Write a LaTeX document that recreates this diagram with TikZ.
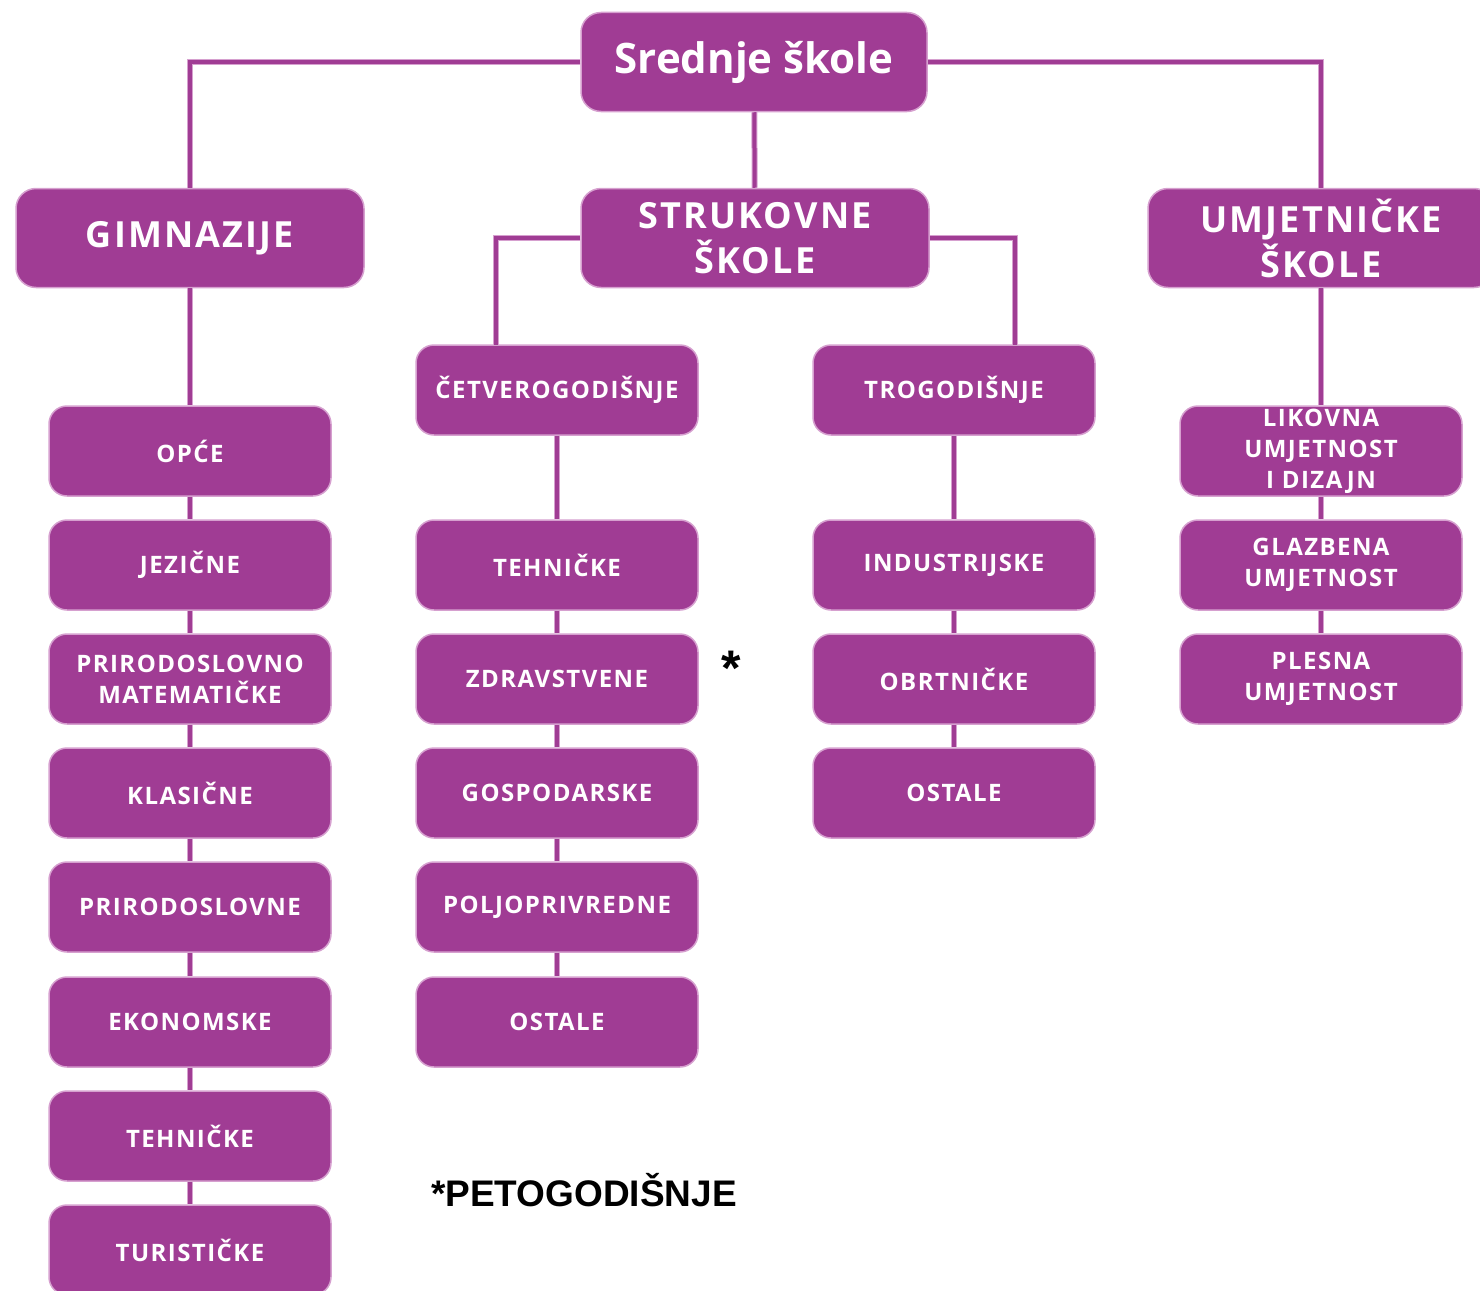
\documentclass[tikz,border=0pt]{standalone}
\usepackage{fontspec}
\setmainfont{Open Sans}
\newfontfamily\boxfont{Open Sans}[LetterSpace=6]
\newfontfamily\notefont{Liberation Sans}
\definecolor{skpurple}{RGB}{160,60,148}
\definecolor{skedge}{RGB}{214,160,207}
\begin{document}
\begin{tikzpicture}[x=1pt,y=-1pt,
    top node/.style={rectangle,rounded corners=20pt,fill=skpurple,draw=skedge,line width=1.5pt,text=white,
      minimum width=346pt,minimum height=99pt,inner sep=0pt,align=center,font=\fontsize{42}{45}\selectfont\bfseries},
    big node/.style={top node,minimum width=348pt,font=\boxfont\fontsize{36}{45}\selectfont\bfseries},
    small node/.style={top node,rounded corners=18pt,minimum width=282pt,minimum height=90pt,font=\boxfont\fontsize{24}{31}\selectfont\bfseries},
    link/.style={draw=skedge,double=skpurple,double distance=4pt,line width=1pt}]
  \clip (0,0) rectangle (1480,1290);
  % top levels
  \node[top node] (top) at (754,62) {Srednje škole};
  \node[big node] (gim) at (190,238) {GIMNAZIJE};
  \node[big node] (stru) at (755,238) {STRUKOVNE\\ŠKOLE};
  \node[big node,minimum width=346pt] (umj) at (1321,238) {UMJETNIČKE\\ŠKOLE};
  % gimnazije
  \node[small node] (g1) at (190,451) {OPĆE};
  \node[small node] (g2) at (190,565) {JEZIČNE};
  \node[small node] (g3) at (190,679) {PRIRODOSLOVNO\\MATEMATIČKE};
  \node[small node] (g4) at (190,793) {KLASIČNE};
  \node[small node] (g5) at (190,907) {PRIRODOSLOVNE};
  \node[small node] (g6) at (190,1022) {EKONOMSKE};
  \node[small node] (g7) at (190,1136) {TEHNIČKE};
  \node[small node] (g8) at (190,1250) {TURISTIČKE};
  % strukovne - cetverogodisnje
  \node[small node] (c0) at (557,390) {ČETVEROGODIŠNJE};
  \node[small node] (c1) at (557,565) {TEHNIČKE};
  \node[small node] (c2) at (557,679) {ZDRAVSTVENE};
  \node[small node] (c3) at (557,793) {GOSPODARSKE};
  \node[small node] (c4) at (557,907) {POLJOPRIVREDNE};
  \node[small node] (c5) at (557,1022) {OSTALE};
  % strukovne - trogodisnje
  \node[small node] (t0) at (954,390) {TROGODIŠNJE};
  \node[small node] (t1) at (954,565) {INDUSTRIJSKE};
  \node[small node] (t2) at (954,679) {OBRTNIČKE};
  \node[small node] (t3) at (954,793) {OSTALE};
  % umjetnicke
  \node[small node] (u1) at (1321,451) {LIKOVNA\\UMJETNOST\\I DIZAJN};
  \node[small node] (u2) at (1321,565) {GLAZBENA\\UMJETNOST};
  \node[small node] (u3) at (1321,679) {PLESNA\\UMJETNOST};
  % notes
  \node[font=\notefont\fontsize{50}{50}\selectfont\bfseries] (star) at (731,668) {*};
  \node[font=\notefont\fontsize{37}{37}\selectfont\bfseries] (note) at (584,1190) {*PETOGODIŠNJE};
  \coordinate (cl) at (496,345);
  \coordinate (cr) at (1015,345);
  % connectors
  \draw[link] (top.west) -| (gim.north);
  \draw[link] (top.east) -| (umj.north);
  \draw[link] (top) -- (stru);
  \draw[link] (stru.west) -| (cl);
  \draw[link] (stru.east) -| (cr);
  \draw[link] (gim) -- (g1);
  \draw[link] (umj) -- (u1);
  \foreach \a/\b in {g1/g2,g2/g3,g3/g4,g4/g5,g5/g6,g6/g7,g7/g8,
      c0/c1,c1/c2,c2/c3,c3/c4,c4/c5,t0/t1,t1/t2,t2/t3,u1/u2,u2/u3}
    \draw[link] (\a) -- (\b);
\end{tikzpicture}
\end{document}
